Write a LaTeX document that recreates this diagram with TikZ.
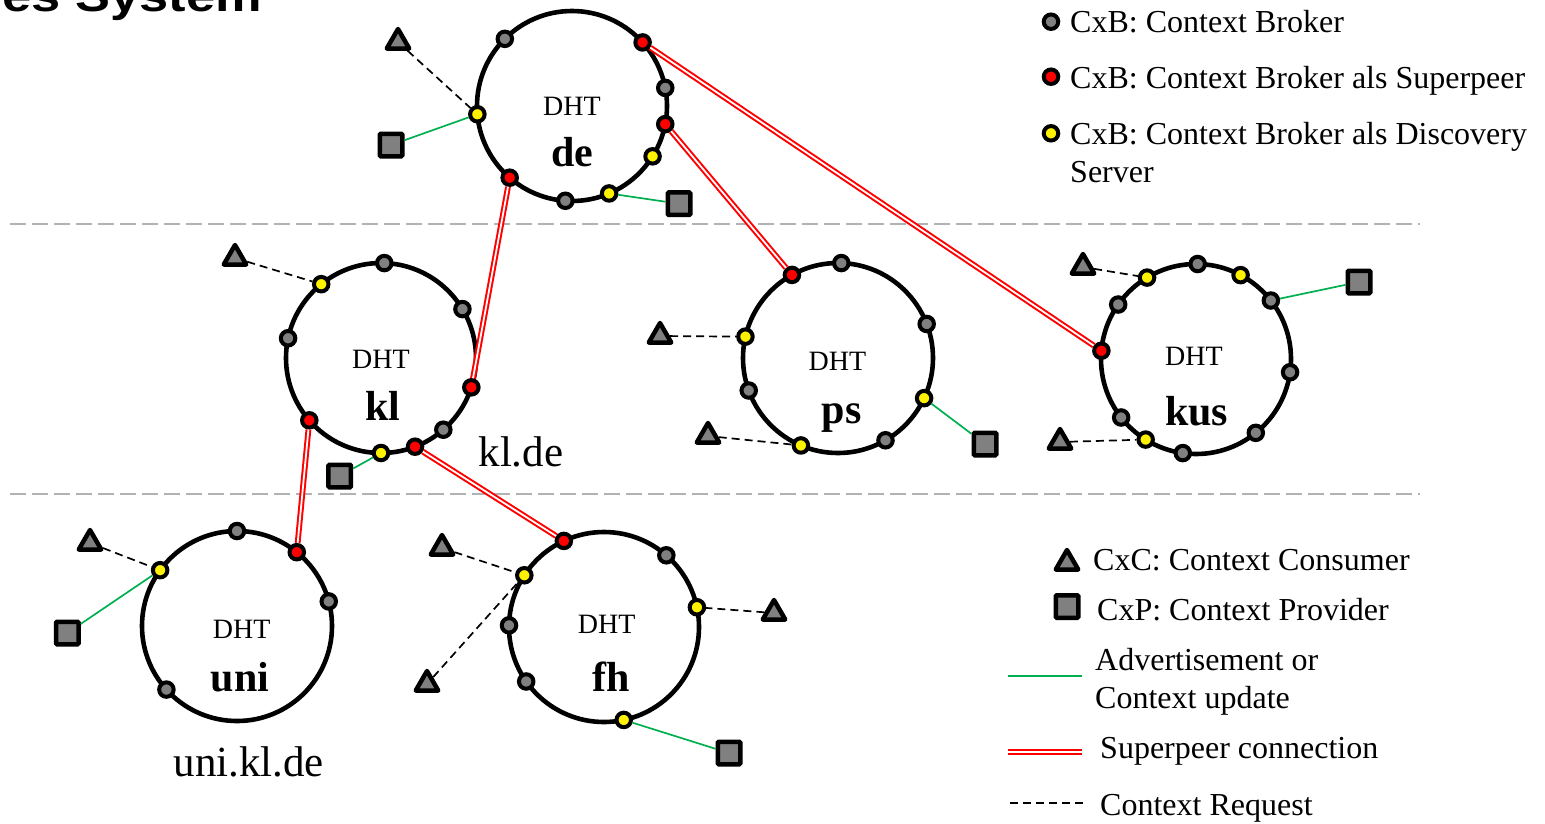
\documentclass[tikz,border=0pt]{standalone}
\usepackage{fontspec}
\setmainfont{Liberation Serif}
\newfontfamily\titlefont{Liberation Sans}
\usetikzlibrary{shapes.geometric}
\definecolor{cxgray}{RGB}{128,128,128}
\definecolor{advgreen}{RGB}{0,176,80}
\definecolor{sepgray}{RGB}{178,178,178}
\tikzset{
 ring/.style={circle, draw, line width=4.6pt, minimum size=190pt, inner sep=0pt, outer sep=0pt},
 cxb/.style={circle, draw, line width=4pt, fill=cxgray, minimum size=14.5pt, inner sep=0pt},
 cxbsp/.style={cxb, fill=red},
 cxbds/.style={cxb, fill=yellow},
 cxc/.style={regular polygon, regular polygon sides=3, draw, fill=cxgray, line width=4.5pt, line join=round, minimum size=26pt, inner sep=0pt},
 cxp/.style={rectangle, draw, fill=cxgray, line width=4.5pt, minimum size=22.5pt, inner sep=0pt, rounded corners=1pt},
 adv/.style={draw=advgreen, line width=1.7pt},
 req/.style={draw=black, line width=1.7pt, dash pattern=on 8pt off 5pt},
 spc/.style={draw=red, line width=2pt, double=white, double distance=1.8pt},
 sepline/.style={draw=sepgray, line width=2pt, dash pattern=on 16pt off 6pt},
 dht/.style={anchor=base, inner sep=0pt, font=\fontsize{28}{30}\selectfont},
 dname/.style={anchor=base, inner sep=0pt, font=\bfseries\fontsize{42}{44}\selectfont},
 dom/.style={anchor=base west, inner sep=0pt, font=\fontsize{43}{45}\selectfont},
 leg/.style={anchor=base west, inner sep=0pt, font=\fontsize{32}{34}\selectfont},
}
\begin{document}
\begin{tikzpicture}[x=1pt,y=1pt]
\useasboundingbox (0,0) rectangle (1545,-823);
% title (cut off at the top edge, as in the original)
\node[anchor=base east, inner sep=0pt, font=\titlefont\bfseries\fontsize{44}{48}\selectfont] (title) at (262,-11.7) {\scalebox{1.19}[1]{es System}};
% separators
\coordinate (s1a) at (10,-224); \coordinate (s1b) at (1420,-224);
\coordinate (s2a) at (10,-494); \coordinate (s2b) at (1420,-494);
\draw[sepline] (s1a) -- (s1b);
\draw[sepline] (s2a) -- (s2b);
% rings
\node[ring] (de) at (572,-106) {};
\node[ring] (kl) at (381,-358) {};
\node[ring] (uni) at (237,-626) {};
\node[ring] (fh) at (604,-627) {};
\node[ring] (ps) at (838,-358) {};
\node[ring] (kus) at (1196,-359) {};
% ring labels
\node[dht] (de-l) at (572,-115) {DHT};   \node[dname] (de-n) at (572.5,-166.7) {de};
\node[dht] (kl-l) at (381,-368) {DHT};   \node[dname] (kl-n) at (383,-420) {kl};
\node[dht] (uni-l) at (241.7,-638) {DHT}; \node[dname] (uni-n) at (240,-691.7) {uni};
\node[dht] (fh-l) at (606.7,-633) {DHT}; \node[dname] (fh-n) at (610.8,-691.7) {fh};
\node[dht] (ps-l) at (837.5,-370) {DHT}; \node[dname] (ps-n) at (841.7,-423) {ps};
\node[dht] (kus-l) at (1194,-365) {DHT}; \node[dname] (kus-n) at (1196.7,-425) {kus};
\node[dom] (kl-d) at (478.3,-466.7) {kl.de};
\node[dom] (uni-d) at (173.3,-776.7) {uni.kl.de};
% consumers and providers
\node[cxc] (de-t) at (398,-42) {};
\node[cxp] (de-s1) at (391,-145) {};
\node[cxp] (de-s2) at (679,-203.7) {};
\node[cxc] (kl-t) at (235,-258) {};
\node[cxp] (kl-s) at (339.7,-476) {};
\node[cxc] (uni-t) at (90,-543) {};
\node[cxp] (uni-s) at (67.3,-633) {};
\node[cxc] (fh-t1) at (442,-548) {};
\node[cxc] (fh-t2) at (427,-684) {};
\node[cxc] (fh-t3) at (774,-613) {};
\node[cxp] (fh-s) at (729,-753) {};
\node[cxc] (ps-t1) at (660,-336) {};
\node[cxc] (ps-t2) at (708,-436) {};
\node[cxp] (ps-s) at (985,-444) {};
\node[cxc] (kus-t1) at (1083,-267) {};
\node[cxc] (kus-t2) at (1060,-442) {};
\node[cxp] (kus-s) at (1359,-282) {};
% de dots
\node[cxb] (de-g1) at (de.135.9) {};
\node[cxbsp] (de-r1) at (de.42.8) {};
\node[cxb] (de-g2) at (de.11.4) {};
\node[cxbsp] (de-r2) at (de.-11.2) {};
\node[cxbds] (de-y1) at (de.-32.7) {};
\node[cxbds] (de-y2) at (de.-67.6) {};
\node[cxb] (de-g3) at (de.-94.3) {};
\node[cxbsp] (de-r3) at (de.-131.6) {};
\node[cxbds] (de-y3) at (de.185) {};
% kl dots
\node[cxb] (kl-g1) at (kl.88.8) {};
\node[cxbds] (kl-y1) at (kl.129.2) {};
\node[cxb] (kl-g2) at (kl.31.6) {};
\node[cxb] (kl-g3) at (kl.168.5) {};
\node[cxbsp] (kl-r1) at (kl.-18.8) {};
\node[cxbsp] (kl-r2) at (kl.-139.2) {};
\node[cxb] (kl-g4) at (kl.-49.3) {};
\node[cxbsp] (kl-r3) at (kl.-69.2) {};
\node[cxbds] (kl-y2) at (kl.-90.6) {};
% uni dots
\node[cxb] (uni-g1) at (uni.90) {};
\node[cxbsp] (uni-r1) at (uni.51.6) {};
\node[cxb] (uni-g2) at (uni.15.3) {};
\node[cxbds] (uni-y1) at (uni.144) {};
\node[cxb] (uni-g3) at (uni.-138.9) {};
% fh dots
\node[cxbsp] (fh-r1) at (fh.115.8) {};
\node[cxb] (fh-g1) at (fh.49.6) {};
\node[cxbds] (fh-y1) at (fh.147.5) {};
\node[cxbds] (fh-y2) at (fh.12.4) {};
\node[cxb] (fh-g2) at (fh.179.4) {};
\node[cxb] (fh-g3) at (fh.-145.6) {};
\node[cxbds] (fh-y3) at (fh.-78.3) {};
% ps dots
\node[cxbsp] (ps-r1) at (ps.119) {};
\node[cxb] (ps-g1) at (ps.88.2) {};
\node[cxb] (ps-g2) at (ps.21.7) {};
\node[cxbds] (ps-y1) at (ps.167.3) {};
\node[cxb] (ps-g3) at (ps.-160.8) {};
\node[cxbds] (ps-y2) at (ps.-25) {};
\node[cxbds] (ps-y3) at (ps.-113.6) {};
\node[cxb] (ps-g4) at (ps.-60.8) {};
% kus dots
\node[cxbds] (kus-y1) at (kus.121) {};
\node[cxb] (kus-g1) at (kus.89.4) {};
\node[cxbds] (kus-y2) at (kus.62.6) {};
\node[cxb] (kus-g2) at (kus.38.6) {};
\node[cxb] (kus-g3) at (kus.145.2) {};
\node[cxbsp] (kus-r1) at (kus.175.2) {};
\node[cxb] (kus-g4) at (kus.-8.5) {};
\node[cxb] (kus-g5) at (kus.-142.9) {};
\node[cxbds] (kus-y3) at (kus.-122.5) {};
\node[cxb] (kus-g6) at (kus.-98) {};
\node[cxb] (kus-g7) at (kus.-51.7) {};
% context requests
\draw[req] (de-t) -- (de-y3);
\draw[req] (kl-t) -- (kl-y1);
\draw[req] (uni-t) -- (uni-y1);
\draw[req] (fh-t1) -- (fh-y1);
\draw[req] (fh-t2) -- (fh-y1);
\draw[req] (fh-t3) -- (fh-y2);
\draw[req] (ps-t1) -- (ps-y1);
\draw[req] (ps-t2) -- (ps-y3);
\draw[req] (kus-t1) -- (kus-y1);
\draw[req] (kus-t2) -- (kus-y3);
% advertisements
\draw[adv] (de-s1) -- (de-y3);
\draw[adv] (de-s2) -- (de-y2);
\draw[adv] (kl-s) -- (kl-y2);
\draw[adv] (uni-s) -- (uni-y1);
\draw[adv] (fh-s) -- (fh-y3);
\draw[adv] (ps-s) -- (ps-y2);
\draw[adv] (kus-s) -- (kus-g2);
% superpeer connections
\draw[spc] (de-r3) -- (kl-r1);
\draw[spc] (de-r2) -- (ps-r1);
\draw[spc] (de-r1) -- (kus-r1);
\draw[spc] (kl-r2) -- (uni-r1);
\draw[spc] (kl-r3) -- (fh-r1);
% legend top
\node[cxb] (lg-g) at (1051,-21.7) {};
\node[cxbsp] (lg-r) at (1051,-76.7) {};
\node[cxbds] (lg-y) at (1051,-133.3) {};
\node[leg] (lt1) at (1070,-32.5) {CxB: Context Broker};
\node[leg] (lt2) at (1070,-88) {CxB: Context Broker als Superpeer};
\node[leg] (lt3) at (1070,-144) {CxB: Context Broker als Discovery};
\node[leg] (lt4) at (1070,-182) {Server};
% legend bottom
\node[cxc] (lg-t) at (1067,-563) {};
\node[cxp] (lg-s) at (1067,-606.5) {};
\node[leg] (lb1) at (1093,-570.7) {CxC: Context Consumer};
\node[leg] (lb2) at (1097,-620) {CxP: Context Provider};
\node[leg] (lb3) at (1095,-670) {Advertisement or};
\node[leg] (lb4) at (1095,-708) {Context update};
\node[leg] (lb5) at (1100,-758) {Superpeer connection};
\node[leg] (lb6) at (1100,-815) {Context Request};
\coordinate (la1) at (1008,-676); \coordinate (la2) at (1082,-676);
\coordinate (ls1) at (1008,-751.7); \coordinate (ls2) at (1082,-751.7);
\coordinate (lr1) at (1010,-803); \coordinate (lr2) at (1083,-803);
\draw[adv] (la1) -- (la2);
\draw[spc] (ls1) -- (ls2);
\draw[req] (lr1) -- (lr2);
\end{tikzpicture}
\end{document}
